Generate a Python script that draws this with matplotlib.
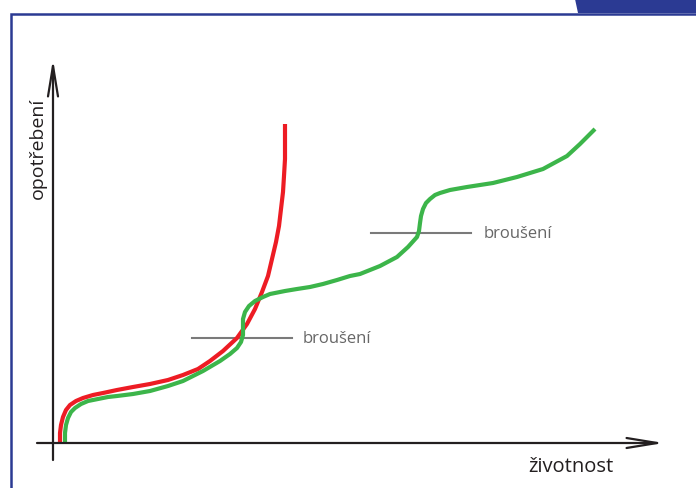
import matplotlib.pyplot as plt
from matplotlib.patches import Polygon

# wear curves, x = lifetime, y = wear (origin at axis crossing)
red_x = [7, 7, 8, 10, 13, 17, 23, 30, 40, 50, 64, 80, 97, 115, 130, 145, 157, 170,
         184, 194, 202, 209, 215, 219, 223, 226, 228, 230, 231, 232, 232, 232]
red_y = [0, 10, 18, 26, 33, 38, 42, 45, 48, 50, 53, 56, 59, 63, 68, 74, 82, 92,
         105, 119, 134, 151, 167, 184, 201, 217, 234, 251, 267, 284, 301, 319]

green_x = [12, 12, 13, 15, 18, 22, 28, 35, 45, 55, 64, 80, 97, 115, 130, 150, 167, 177,
           184, 188, 190, 190, 190, 192, 196, 202, 210, 217, 232, 244, 257, 270, 284,
           297, 307, 327, 344, 355, 364, 366, 367, 368, 370, 373, 377, 382, 387, 397,
           414, 440, 464, 490, 514, 527, 542]
green_y = [0, 10, 18, 25, 31, 35, 39, 42, 44, 46, 47, 49, 52, 57, 62, 72, 82, 89,
           95, 101, 108, 116, 124, 131, 137, 142, 146, 149, 152, 154, 156, 159, 163,
           167, 169, 177, 186, 196, 206, 212, 220, 227, 234, 240, 244, 248, 250, 253,
           256, 260, 266, 274, 287, 299, 314]

# regrinding marks
grind_y = [105, 210]
grind_x0 = [139, 318]
grind_x1 = [239, 418]
grind_label = ["broušení", "broušení"]
grind_label_x = [250, 431]

plt.rcParams['font.family'] = ['Open Sans', 'DejaVu Sans']

fig = plt.figure(figsize=(6.96, 4.89), dpi=100)
ax = fig.add_axes([0, 0, 1, 1])
ax.set_xlim(-53, 643)
ax.set_ylim(-45, 444)
ax.axis('off')

# blue frame
blue = '#2b3a93'
ax.plot([11 / 696, 11 / 696, 1], [0, 1 - 15 / 489, 1 - 15 / 489],
        transform=ax.transAxes, color=blue, lw=1.8, solid_joinstyle='miter')
ax.add_patch(Polygon([(575 / 696, 1), (1, 1), (1, 1 - 14 / 489), (578 / 696, 1 - 14 / 489)],
                     closed=True, transform=ax.transAxes, color=blue, lw=0))

# axes with open arrow heads
arrow = dict(arrowstyle='->,head_length=2.2,head_width=0.36', lw=1.6,
             color='#231f20', shrinkA=0, shrinkB=0)
ax.annotate('', xy=(611, 0), xytext=(-16, 0), arrowprops=arrow)
ax.annotate('', xy=(0, 384), xytext=(0, -17), arrowprops=arrow)

ax.text(475, -28, 'životnost', fontsize=14.5, color='#231f20', ha='left', va='baseline')
ax.text(-15, 296, 'opotřebení', fontsize=14, color='#231f20', rotation=90,
        ha='center', va='center')

for y, x0, x1, lab, lx in zip(grind_y, grind_x0, grind_x1, grind_label, grind_label_x):
    ax.plot([x0, x1], [y, y], color='#7a7a7a', lw=1.5)
    ax.text(lx, y, lab, fontsize=12, color='#666666', ha='left', va='center')

ax.plot(red_x, red_y, color='#ed1c24', lw=3, solid_capstyle='butt', solid_joinstyle='round')
ax.plot(green_x, green_y, color='#3cb54a', lw=3, solid_capstyle='butt', solid_joinstyle='round')

fig.savefig('out.png', dpi=100)
